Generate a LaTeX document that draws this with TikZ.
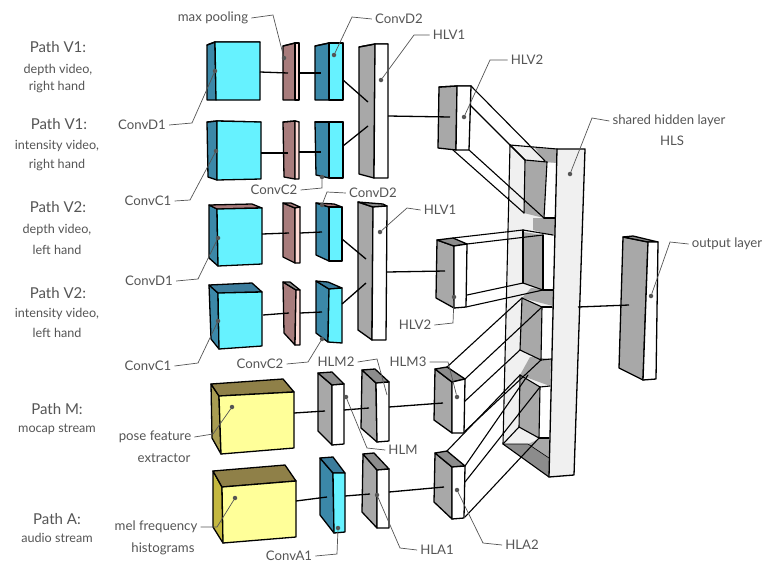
\documentclass[tikz,border=0pt]{standalone}
\usepackage{fontspec}
\setmainfont{Lato}
\definecolor{cyS}{HTML}{3B88A8}\definecolor{cyT}{HTML}{3B7C9C}\definecolor{cyF}{HTML}{66F2FF}
\definecolor{crS}{HTML}{3B88A8}\definecolor{crT}{HTML}{A87C7C}\definecolor{crF}{HTML}{66F2FF}
\definecolor{roS}{HTML}{A87C7C}\definecolor{roT}{HTML}{A87C7C}\definecolor{roF}{HTML}{FFDCD8}
\definecolor{rgS}{HTML}{A87C7C}\definecolor{rgT}{HTML}{8C8C8C}\definecolor{rgF}{HTML}{FFDCD8}
\definecolor{grS}{HTML}{A8A8A8}\definecolor{grT}{HTML}{8C8C8C}\definecolor{grF}{HTML}{FFFFFF}
\definecolor{yaS}{HTML}{A89C52}\definecolor{yaT}{HTML}{8F8048}\definecolor{yaF}{HTML}{FFFF99}
\definecolor{ybS}{HTML}{C4B840}\definecolor{ybT}{HTML}{8F8048}\definecolor{ybF}{HTML}{FFFF99}
\definecolor{txt}{HTML}{555555}
\definecolor{panel}{HTML}{F0F0F0}
\tikzset{
	edge/.style={draw=black,line width=1.3pt,line join=round},
	link/.style={black,line width=1.3pt},
	thin edge/.style={black,line width=1.1pt,line cap=round},
	lab/.style={text=txt,font=\fontsize{13.2}{15}\selectfont,inner sep=3pt},
	head/.style={text=txt,font=\fontsize{15}{18}\selectfont,inner sep=0pt},
	sub/.style={text=txt,font=\fontsize{12.6}{15}\selectfont,inner sep=0pt},
	leader/.style={txt,line width=0.7pt},
	dot/.style={circle,fill=txt,inner sep=0pt,minimum size=4.5pt}
}
% side, top and front face of one block
\newcommand{\cuboid}[8]{
	\path[edge,fill=#1S] (#2) -- (#4) -- (#7) -- (#8) -- cycle;
	\path[edge,fill=#1T] (#2) -- (#3) -- (#5) -- (#4) -- cycle;
	\path[edge,fill=#1F] (#4) -- (#5) -- (#6) -- (#7) -- cycle;
}
\begin{document}
\begin{tikzpicture}[x=1pt,y=-1pt]
\useasboundingbox[fill=white] (0,0) rectangle (762,563);

%Shared layer, back part
\path[fill=panel] (510,145) -- (557,149) -- (549,477) -- (503,444) -- cycle;
\foreach \ax/\ay/\bx/\by/\cx/\cy/\dx/\dy in
{
547/163/557/163/555/218/545/218,
544/235/555/235/553/290/543/290,
542/307/552/307/551/359/541/360,
540/387/550/386/549/439/539/438
}
{
	\fill[white] (\ax,\ay) -- (\bx,\by) -- (\cx,\cy) -- (\dx,\dy) -- cycle;
}
\foreach \ax/\ay/\bx/\by/\cx/\cy/\dx/\dy in
{
525/160/547/162/544/218/524/213,
523/232/543/235/542/290/523/283,
522/298/542/307/541/360/520/350,
520/375/540/387/539/438/519/427,
535/148/557/149/557/163/545/162,
533/218/555/218/555/236/533/230,
531/288/553/290/553/306/522/298,
530/357/551/359/550/386/520/375
}
{
	\fill[grS] (\ax,\ay) -- (\bx,\by) -- (\cx,\cy) -- (\dx,\dy) -- cycle;
}
\fill[panel] (503,444) -- (519,427) -- (539,439) -- (528,444) -- cycle;
\fill[grT] (503,444) -- (528,444) -- (549,458) -- (549,477) -- cycle;
\fill[grS] (528,444) -- (539,439) -- (549,439) -- (549,458) -- cycle;

%Tubes
\foreach \ax/\ay/\bx/\by in
{
471/86/545/161,
470/105/525/160,
453/150/524/213,
469/150/544/218,
510/145/525/160,
525/160/547/162,
525/160/524/213,
547/162/544/218,
544/218/555/218,
453/238/523/230,
523/230/553/235,
467/244/543/235,
523/230/523/283,
467/295/523/283,
523/283/543/290,
543/290/553/290,
466/307/543/290,
543/235/543/290,
447/367/522/298,
522/298/542/307,
542/307/552/307,
465/379/542/307,
522/298/520/350,
464/402/520/350,
520/350/541/360,
541/360/551/359,
463/433/541/360,
542/307/541/360,
447/451/520/375,
520/375/540/387,
540/387/550/386,
465/466/528/375,
465/482/540/387,
465/517/539/438,
540/387/539/438,
539/438/549/438,
520/375/519/427,
519/427/539/438,
519/427/503/444
}
{
	\draw[thin edge] (\ax,\ay) -- (\bx,\by);
}
\draw[thin edge] (557,149) -- (510,145) -- (503,444) -- (549,477);
\draw[line width=0.6pt,black] (503,444) -- (528,444) -- (549,458);

%Shared layer, front
\path[edge,fill=panel] (557,149) -- (585,149) -- (574,475) -- (549,477) -- cycle;

%Blocks
\cuboid{cy}{207,45}{215,42}{215,42}{260,42}{260,100}{216,100}{207,100}
\cuboid{ro}{283,46}{295,43}{295,43}{299,43}{299,100}{295,100}{283,100}
\cuboid{cy}{315,46}{329,43}{329,43}{343,43}{343,100}{329,100}{315,100}
\cuboid{gr}{359,47}{375,44}{375,44}{388,44}{388,178}{374,178}{359,174}
\cuboid{cy}{207,122}{217,121}{217,121}{261,122}{261,179}{217,180}{208,177}
\cuboid{ro}{283,122}{295,121}{295,121}{299,122}{299,179}{295,179}{284,177}
\cuboid{cy}{315,122}{329,122}{329,122}{343,122}{343,178}{329,178}{316,175}
\cuboid{cr}{209,205}{252,204}{217,209}{262,208}{262,264}{218,266}{209,258}
\cuboid{ro}{283,203}{291,203}{295,208}{300,207}{300,263}{295,263}{283,257}
\cuboid{cr}{316,203}{334,204}{329,207}{342,207}{342,261}{329,261}{316,255}
\cuboid{gr}{358,202}{383,204}{373,207}{387,206}{386,340}{372,340}{358,330}
\cuboid{cy}{209,285}{252,283}{218,293}{262,292}{262,346}{219,349}{211,339}
\cuboid{rg}{283,282}{290,282}{296,290}{300,290}{300,345}{295,345}{284,333}
\cuboid{cy}{316,281}{328,282}{329,289}{342,288}{342,343}{328,342}{316,333}
\cuboid{ya}{211,384}{283,379}{219,396}{294,392}{294,448}{221,454}{212,438}
\cuboid{gr}{318,373}{332,372}{332,385}{344,384}{344,444}{332,445}{318,431}
\cuboid{gr}{362,370}{375,369}{376,383}{389,382}{389,441}{377,442}{361,428}
\cuboid{yb}{213,471}{285,465}{222,487}{296,481}{296,537}{223,543}{213,527}
\cuboid{cy}{320,458}{333,457}{333,473}{345,473}{345,532}{334,533}{320,515}
\cuboid{gr}{363,454}{374,453}{377,470}{389,469}{389,528}{377,528}{362,512}
\cuboid{gr}{439,87}{457,86}{457,86}{471,86}{469,150}{456,150}{438,148}
\cuboid{gr}{437,240}{453,238}{454,246}{467,244}{466,307}{454,308}{436,298}
\cuboid{gr}{435,369}{447,367}{452,382}{465,379}{464,433}{452,433}{434,420}
\cuboid{gr}{435,453}{447,451}{452,467}{465,466}{464,518}{452,519}{434,502}
\cuboid{gr}{623,237}{633,236}{648,242}{658,242}{656,379}{643,380}{619,368}

%Links
\foreach \n/\x/\y in
{
aa/260/72, ab/288/73, ac/299/73, ad/321/73, ae/343/80, af/368/102, ag/343/146, ah/368/126,
ai/388/116, aj/450/117, ba/261/153, bb/288/153, bc/299/152, bd/321/152,
ca/262/234, cb/289/233, cc/300/233, cd/322/232, ce/342/239, cf/366/259, cg/342/304, ch/366/283,
ci/387/272, cj/445/271, da/263/315, db/289/313, dc/300/313, dd/322/312,
ea/294/413, eb/325/411, ec/344/410, ed/369/408, ee/389/407, ef/443/403,
fa/296/501, fb/327/497, fc/345/496, fd/370/494, fe/389/492, ff/444/487,
ga/578/307, gb/629/305
}
{
	\coordinate (\n) at (\x,\y);
}
\foreach \a/\b in {aa/ab,ac/ad,ae/af,ag/ah,ai/aj,ba/bb,bc/bd,ca/cb,cc/cd,ce/cf,cg/ch,ci/cj,
	da/db,dc/dd,ea/eb,ec/ed,ee/ef,fa/fb,fc/fd,fe/ff,ga/gb}
{
	\draw[link] (\a) -- (\b);
}

%Path captions
\foreach \n/\x/\y/\t in
{
pa/58/47/{Path V1:},
pb/59/124/{Path V1:},
pc/58/207/{Path V2:},
pd/58/293/{Path V2:},
pe/57/409/{Path M:},
pf/57/519/{Path A:}
}
{
	\node[head] (\n) at (\x,\y) {\t};
}
\foreach \n/\x/\y/\t in
{
qa/58/70/{depth video,},
qb/57/87/{right hand},
qc/57/146/{intensity video,},
qd/57/165/{right hand},
qe/57/230/{depth video,},
qf/57/250/{left hand},
qg/57/314/{intensity video,},
qh/57/333/{left hand},
qi/57/429/{mocap stream},
qj/57/538/{audio stream}
}
{
	\node[sub] (\n) at (\x,\y) {\t};
}

%Labels
\foreach \n/\x/\y/\t in
{
lpool/213/18/{max pooling},
ldb/399/19/{ConvD2},
lha/449/35/{HLV1},
lhb/527/60/{HLV2},
lhs/669/121/{shared hidden layer},
lout/727/244/{output layer},
lcda/142/125/{ConvD1},
lcca/148/201/{ConvC1},
lccb/274/190/{ConvC2},
ldc/373/193/{ConvD2},
lhc/440/210/{HLV1},
lcdb/149/281/{ConvD1},
lhd/415/325/{HLV2},
lccc/148/366/{ConvC1},
lccd/260/364/{ConvC2},
lma/336/362/{HLM2},
lmb/408/362/{HLM3},
lmc/403/450/{HLM},
lpf/155/437/{pose feature},
lmf/156/527/{mel frequency},
lca/289/556/{ConvA1},
lla/437/550/{HLA1},
llb/522/545/{HLA2}
}
{
	\node[lab] (\n) at (\x,\y) {\t};
}
\node[lab] (lhs2) at (672,141) {HLS};
\node[lab] (lpf2) at (164,458) {extractor};
\node[lab] (lmf2) at (163,549) {histograms};

%Leaders
\foreach \n/\x/\y in
{
xpool/284/58, xdb/334/55, xha/381/80, xhb/464/117, xhs/570/174, xout/651/296,
xcda/215/71, xcca/216/151, xccb/322/177, xdc/322/205, xhc/380/232, xcdb/218/238,
xhd/454/297, xccc/218/321, xccd/322/339, xmb/457/397, xmc/346/397, xpf/232/407,
xmf/235/498, xca/338/528, xla/377/495, xlb/457/490
}
{
	\node[dot] (\n) at (\x,\y) {};
}
\coordinate (xma) at (387,395);
\foreach \a/\x/\y/\b in
{
lpool.east/273/15/xpool,
ldb.west/352/17/xdb,
lha.west/414/35/xha,
lhb.west/490/60/xhb,
lhs.west/592/118/xhs,
lout.west/670/242/xout,
lcda.east/192/123/xcda,
lcca.east/190/200/xcca,
lccb.east/322/188/xccb,
ldc.west/327/192/xdc,
lhc.west/407/208/xhc,
lcdb.east/198/279/xcdb,
lhd.east/453/323/xhd,
lccc.east/198/363/xccc,
lccd.east/308/362/xccd,
lma.east/377/359/xma,
lmb.east/448/362/xmb,
lmc.west/367/448/xmc,
lpf.east/213/434/xpf,
lmf.east/217/527/xmf,
lca.east/337/554/xca,
lla.west/400/548/xla,
llb.west/483/543/xlb}
{
	\draw[leader] (\a) -- (\x,\y) -- (\b);
}

\end{tikzpicture}
\end{document}
